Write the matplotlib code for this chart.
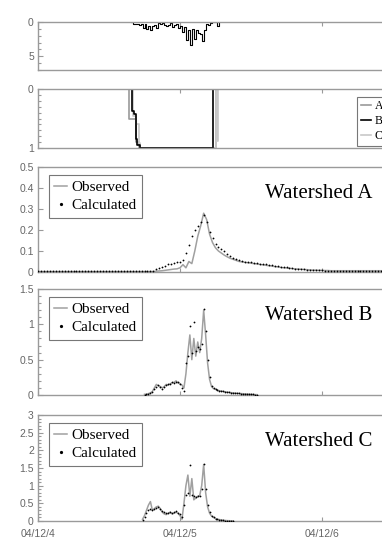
import numpy as np
import matplotlib
matplotlib.use("Agg")
import matplotlib.pyplot as plt
from matplotlib.ticker import MultipleLocator, FuncFormatter
from matplotlib.lines import Line2D

# ---------------- data ----------------
day_labels = ["04/12/4", "04/12/5", "04/12/6"]

# rainfall (mm / 20 min), starting 15:40 on 04/12/4
rain_start_h = 15.667
rain = [0, 0.3, 0.3, 0.3, 0.4, 0.3, 0.9, 0.3, 1.0, 0.6, 1.2, 0.6, 0.4, 0.9, 0.2, 0.3,
        0.1, 0.5, 0.6, 0.4, 0.2, 0.7, 0.4, 0.3, 0.9, 0.6, 1.5, 0.8, 2.6, 1.2, 3.4,
        1.0, 2.5, 1.2, 1.6, 1.8, 2.7, 1.2, 0.3, 0.4, 0.2, 0, 0, 0, 0.6, 0]

# saturation ratio step series (hours, value)
satA_h = [0, 15.4, 16.6, 17.0, 30.0, 72]
satA = [0, 0.5, 0.9, 1.0, 0, 0]
satB_h = [0, 15.9, 16.3, 16.6, 16.8, 17.2, 29.6, 72]
satB = [0, 0.38, 0.42, 0.85, 0.95, 1.0, 0, 0]
satC_h = [0, 16.1, 16.5, 17.0, 17.3, 30.15, 30.3, 30.5, 72]
satC = [0, 0.45, 0.6, 0.92, 1.0, 0, 0.88, 0, 0]

# Watershed A (30-min steps from 0 h)
A_step = 0.5
A_obs = ([0.002] * 40 +
         [0.004, 0.005, 0.006, 0.008, 0.010, 0.012, 0.014, 0.015, 0.020, 0.035,
          0.020, 0.050, 0.040, 0.100, 0.170, 0.220, 0.280, 0.250, 0.180, 0.140,
          0.115, 0.100, 0.090, 0.080, 0.072, 0.065, 0.060, 0.055, 0.050, 0.048,
          0.046, 0.044, 0.042, 0.040, 0.038, 0.036, 0.034, 0.032, 0.030, 0.028,
          0.026, 0.024, 0.022, 0.020, 0.019, 0.018, 0.016, 0.015, 0.014, 0.013,
          0.012, 0.011, 0.010, 0.009, 0.009, 0.008, 0.008, 0.007, 0.007] +
         [0.006] * 22)
A_calc = ([0.003] * 40 +
          [0.012, 0.018, 0.024, 0.030, 0.036, 0.040, 0.045, 0.048, 0.050, 0.055,
           0.090, 0.130, 0.170, 0.200, 0.220, 0.240, 0.270, 0.240, 0.190, 0.160,
           0.135, 0.120, 0.110, 0.100, 0.085, 0.075, 0.065, 0.060, 0.055, 0.052,
           0.050, 0.048, 0.046, 0.044, 0.042, 0.040, 0.038, 0.036, 0.034, 0.032,
           0.030, 0.028, 0.026, 0.024, 0.022, 0.020, 0.018, 0.016, 0.015, 0.014,
           0.012, 0.011, 0.010, 0.009, 0.009, 0.008, 0.008, 0.007, 0.007] +
          [0.006] * 22)

# Watershed B (20-min steps from 18 h)
B_start_h = 18.0
B_obs = [0.01, 0.01, 0.02, 0.03, 0.05, 0.10, 0.15, 0.13, 0.12, 0.10,
         0.12, 0.15, 0.14, 0.16, 0.17, 0.18, 0.20, 0.17, 0.16, 0.14,
         0.10, 0.30, 0.60, 0.85, 0.50, 0.80, 0.55, 0.75, 0.60, 0.80,
         1.20, 0.85, 0.45, 0.22, 0.12, 0.09, 0.08, 0.07, 0.06, 0.055,
         0.05, 0.045, 0.04, 0.037, 0.033, 0.03, 0.027, 0.024, 0.022, 0.02,
         0.018, 0.016, 0.014, 0.012, 0.01, 0.008, 0.006, 0.005]
B_calc = [0.0, 0.01, 0.02, 0.03, 0.04, 0.08, 0.12, 0.14, 0.11, 0.09,
          0.11, 0.14, 0.15, 0.16, 0.18, 0.17, 0.19, 0.18, 0.15, 0.10,
          0.05, 0.45, 0.55, 0.98, 0.60, 1.04, 0.62, 0.68, 0.65, 0.72,
          1.22, 0.90, 0.50, 0.25, 0.13, 0.10, 0.08, 0.07, 0.06, 0.055,
          0.05, 0.045, 0.04, 0.037, 0.033, 0.03, 0.027, 0.024, 0.022, 0.02,
          0.018, 0.016, 0.014, 0.012, 0.01, 0.008, 0.006, 0.005]

# Watershed C (20-min steps from 17:40)
C_start_h = 17.667
C_obs = [0.05, 0.15, 0.30, 0.45, 0.55, 0.30, 0.35, 0.40, 0.42, 0.35,
         0.25, 0.20, 0.18, 0.22, 0.25, 0.20, 0.22, 0.25, 0.22, 0.15,
         0.05, 0.50, 1.00, 1.30, 0.70, 1.20, 0.60, 0.65, 0.70, 0.72,
         1.00, 1.60, 0.80, 0.40, 0.22, 0.14, 0.10, 0.07, 0.05, 0.04,
         0.03, 0.02, 0.015, 0.01, 0.008, 0.006, 0.005]
C_calc = [0.03, 0.12, 0.22, 0.30, 0.35, 0.30, 0.33, 0.38, 0.40, 0.35,
          0.28, 0.25, 0.22, 0.24, 0.26, 0.24, 0.25, 0.27, 0.24, 0.20,
          0.10, 0.45, 0.75, 0.80, 1.58, 0.75, 0.70, 0.68, 0.70, 0.72,
          0.90, 1.60, 0.90, 0.45, 0.25, 0.15, 0.10, 0.07, 0.05, 0.035,
          0.025, 0.018, 0.012, 0.008, 0.005, 0.003, 0.002]

# ---------------- figure ----------------
W, H = 382, 541
fig = plt.figure(figsize=(W / 100, H / 100), dpi=100)

x0_px, x3_px = 38, 464   # day 0 and day 3 positions in pixels


def make_ax(top_px, bot_px):
    return fig.add_axes([x0_px / W, 1 - bot_px / H, (x3_px - x0_px) / W,
                         (bot_px - top_px) / H])


spine_c = "#9a9a9a"
tick_c = "#666666"
serif = ["Liberation Serif", "DejaVu Serif"]
gfmt = FuncFormatter(lambda v, pos: "%g" % round(v, 3))


def style(ax, ymin, ymax, major, minor, invert=False, show_x=False):
    ax.set_xlim(0, 3)
    if invert:
        ax.set_ylim(ymax, ymin)
    else:
        ax.set_ylim(ymin, ymax)
    ax.yaxis.set_major_locator(MultipleLocator(major))
    if minor:
        ax.yaxis.set_minor_locator(MultipleLocator(minor))
    ax.yaxis.set_major_formatter(gfmt)
    ax.set_xticks([0, 1, 2])
    if show_x:
        ax.set_xticklabels(day_labels)
    else:
        ax.set_xticklabels([])
    if invert:
        ax.xaxis.set_ticks_position("top")
    for s in ax.spines.values():
        s.set_color(spine_c)
        s.set_linewidth(1.0)
    ax.tick_params(axis="both", which="both", direction="in", colors=spine_c,
                   labelcolor=tick_c, labelsize=7.5, width=0.8)
    ax.tick_params(axis="y", which="major", length=3.5, pad=3)
    ax.tick_params(axis="y", which="minor", length=2)
    ax.tick_params(axis="x", which="major", length=3, pad=6)
    for lab in ax.get_yticklabels() + ax.get_xticklabels():
        lab.set_fontfamily(["Liberation Sans", "DejaVu Sans"])


# Panel 1: rainfall
ax1 = make_ax(22, 70)
rain_t = (rain_start_h + np.arange(len(rain)) / 3.0) / 24.0
ax1.step(rain_t, rain, where="post", color="black", lw=0.8)
style(ax1, 0, 7, 5, 1, invert=True)

# Panel 2: saturation
ax2 = make_ax(89, 148)
ax2.plot(np.array(satA_h) / 24, satA, drawstyle="steps-post", color="#9a9a9a", lw=1.2)
ax2.plot(np.array(satC_h) / 24, satC, drawstyle="steps-post", color="#c8c8c8", lw=1.2)
ax2.plot(np.array(satB_h) / 24, satB, drawstyle="steps-post", color="black", lw=1.2)
style(ax2, 0, 1, 1, 0.1, invert=True)
leg_handles = [Line2D([], [], color="#9a9a9a", lw=1.2),
               Line2D([], [], color="black", lw=1.2),
               Line2D([], [], color="#c8c8c8", lw=1.2)]
lg = ax2.legend(leg_handles, ["A", "B", "C"], loc="upper left",
                bbox_to_anchor=(0.749, 0.87), prop={"family": serif, "size": 8.5},
                frameon=True, fancybox=False, framealpha=1, edgecolor="#777777",
                handlelength=0.9, handletextpad=0.3, labelspacing=0.25,
                borderpad=0.3, borderaxespad=0)
lg.get_frame().set_linewidth(0.8)


def flow_panel(top_px, bot_px, t_h, obs, calc, ymax, major, minor, name, show_x=False):
    ax = make_ax(top_px, bot_px)
    t = np.asarray(t_h) / 24.0
    ax.plot(t, obs, color="#a0a0a0", lw=1.1, zorder=2)
    ax.plot(t, calc, ls="none", marker="o", ms=1.3, mfc="black", mec="black",
            mew=0, zorder=3)
    style(ax, 0, ymax, major, minor, show_x=show_x)
    handles = [Line2D([], [], color="#a0a0a0", lw=1.1),
               Line2D([], [], ls="none", marker="o", ms=1.3, color="black")]
    lg = ax.legend(handles, ["Observed", "Calculated"], loc="upper left",
                   bbox_to_anchor=(0.026, 1 - 8 / (bot_px - top_px)),
                   prop={"family": serif, "size": 11}, frameon=True,
                   fancybox=False, framealpha=1, edgecolor="#777777",
                   handlelength=0.8, handletextpad=0.3, labelspacing=0.3,
                   borderpad=0.35, borderaxespad=0)
    lg.get_frame().set_linewidth(0.8)
    ax.text((265 - x0_px) / (x3_px - x0_px), 1 - 26 / (bot_px - top_px), name,
            transform=ax.transAxes, ha="left", va="center",
            family=serif, fontsize=15, color="black")
    return ax


A_t = np.arange(len(A_obs)) * A_step
B_t = B_start_h + np.arange(len(B_obs)) / 3.0
C_t = C_start_h + np.arange(len(C_obs)) / 3.0

flow_panel(167, 272, A_t, A_obs, A_calc, 0.5, 0.1, None, "Watershed A")
flow_panel(289, 395, B_t, B_obs, B_calc, 1.5, 0.5, 0.1, "Watershed B")
flow_panel(415, 521, C_t, C_obs, C_calc, 3, 0.5, 0.1, "Watershed C", show_x=True)

fig.savefig("out.png", dpi=100)
